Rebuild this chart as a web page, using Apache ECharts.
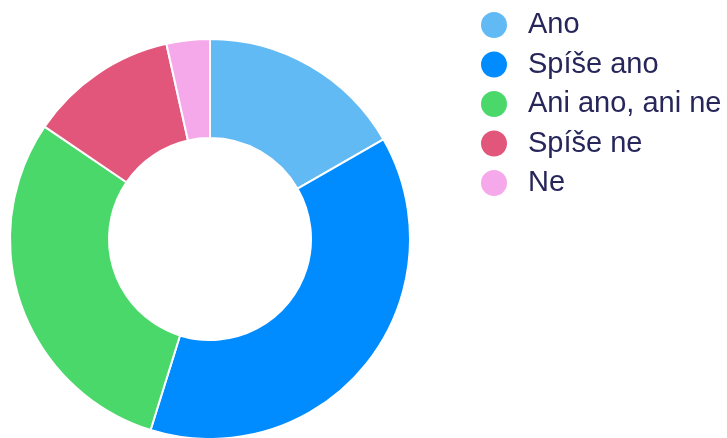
<!DOCTYPE html>
<html><head><meta charset="utf-8">
<script src="https://cdn.jsdelivr.net/npm/echarts@6/dist/echarts.min.js"></script>
<style>html,body{margin:0;padding:0;background:#fff}#c{width:727px;height:438px}</style>
</head><body><div id="c"></div>
<script>
const categories = ["Ano", "Spíše ano", "Ani ano, ani ne", "Spíše ne", "Ne"];
const values = [16.7, 38.1, 29.7, 12.0, 3.5];
const colors = ["#62baf4", "#008cff", "#4ad86b", "#e3567b", "#f6a9ea"];

const chart = echarts.init(document.getElementById('c'), null, {renderer: 'canvas'});
chart.setOption({
  animation: false,
  color: colors,
  legend: {
    orient: 'vertical',
    left: 474,
    top: 5,
    icon: 'circle',
    itemWidth: 28,
    itemHeight: 28,
    itemGap: 9.5,
    textStyle: {fontFamily: 'Liberation Sans, Arial, sans-serif', fontSize: 29, color: '#27265a', lineHeight: 30, padding: [0,0,0,15]},
    data: categories
  },
  series: [{
    type: 'pie',
    center: [210, 239],
    radius: [101, 200],
    startAngle: 90,
    clockwise: true,
    label: {show: false},
    labelLine: {show: false},
    itemStyle: {borderColor: '#fff', borderWidth: 2},
    emphasis: {disabled: true},
    data: categories.map((c, i) => ({name: c, value: values[i]}))
  }]
});
</script></body></html>
